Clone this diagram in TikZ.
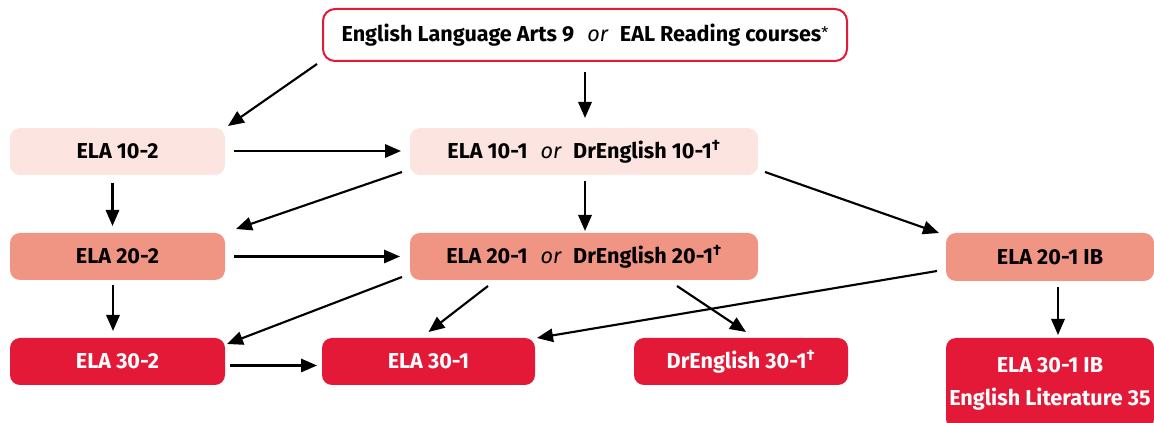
\documentclass[tikz,border=0pt]{standalone}
\usepackage{fontspec}
\setmainfont{Fira Sans}
\usetikzlibrary{arrows.meta,calc}

\definecolor{paleRose}{HTML}{FCE5E0}
\definecolor{salmonPink}{HTML}{F09484}
\definecolor{courseRed}{HTML}{E31937}

\newcommand{\orword}{\hspace{0.6em}{\mdseries\itshape or}\hspace{0.55em}}
\newcommand{\dg}{\textsuperscript{†}}
\newcommand{\astmark}{\raisebox{0.12em}{\mdseries\fontsize{12}{12}\selectfont *}}

\begin{document}
\begin{tikzpicture}[x=0.75pt,y=-0.75pt,
  course/.style={rounded corners=7.5pt, inner sep=0pt, outer sep=0pt,
    font=\bfseries\fontsize{16.2}{19}\selectfont, text=black,
    minimum height=47*0.75pt},
  lvlA/.style={course, fill=paleRose},
  lvlB/.style={course, fill=salmonPink},
  lvlC/.style={course, fill=courseRed, text=white},
  flow/.style={line width=1.6pt, -{Triangle[length=12pt,width=10pt]}}
]
\useasboundingbox (0,0) rectangle (1154,423);
\clip (0,0) rectangle (1154,423);

% starting course
\node[course, draw=courseRed, line width=1.5pt, fill=white, rounded corners=9pt,
      minimum width=524*0.75pt, minimum height=52*0.75pt] (top) at (585,35)
  {English Language Arts 9\orword EAL Reading courses\astmark};

% grade 10
\node[lvlA, minimum width=215*0.75pt] (e2) at (117.5,151.5) {ELA 10-2};
\node[lvlA, minimum width=348*0.75pt] (e1) at (584,151.5) {ELA 10-1\orword DrEnglish 10-1\dg};

% grade 20
\node[lvlB, minimum width=215*0.75pt] (f2) at (117.5,256.5) {ELA 20-2};
\node[lvlB, minimum width=348*0.75pt] (f1) at (584,256.5) {ELA 20-1\orword DrEnglish 20-1\dg};
\node[lvlB, minimum width=208*0.75pt, minimum height=48*0.75pt] (f3) at (1050,257) {ELA 20-1 IB};

% grade 30
\node[lvlC, minimum width=215*0.75pt] (e3) at (117.5,361.5) {ELA 30-2};
\node[lvlC, minimum width=213*0.75pt] (e4) at (428.5,361.5) {ELA 30-1};
\node[lvlC, minimum width=214*0.75pt] (e5) at (741,361.5) {DrEnglish 30-1\dg};
\node[lvlC, minimum width=208*0.75pt, minimum height=91*0.75pt, align=center,
      font=\bfseries\fontsize{16.2}{24.75}\selectfont] (ib) at (1050,383.5)
  {ELA 30-1 IB\\English Literature 35};

% pathways
\draw[flow] ($(top.south west)+(-6,3)$) -- ($(e2.north east)+(3,-2)$);
\draw[flow] ($(top.south)+(0,11)$) -- ($(top.south |- e1.north)+(0,-10)$);
\draw[flow] ($(e2.east)+(9,-0.5)$) -- ($(e1.west)+(-9,-0.5)$);
\draw[flow] ($(e1.south west)+(-8,-3)$) -- ($(f2.north east)+(11,-4)$);
\draw[flow] ($(e2.south)+(-5,8)$) -- ($(f2.north)+(-5,-7)$);
\draw[flow] ($(e1.south)+(1,6)$) -- ($(e1.south |- f1.north)+(1,-2)$);
\draw[flow] ($(e1.south east)+(7,-3)$) -- ($(f3.north west)+(-7,0)$);
\draw[flow] ($(f2.east)+(9,0)$) -- ($(f1.west)+(-10,0)$);
\draw[flow] ($(f1.south west)+(-8,-3)$) -- ($(e3.north east)+(2,6)$);
\draw[flow] ($(f2.south)+(-4.5,5)$) -- ($(e3.north)+(-4.5,-7)$);
\draw[flow] ($(f1.south)+(-96,6)$) -- ($(e4.north)+(0,-6)$);
\draw[flow] ($(f1.south)+(93,6)$) -- ($(e5.north)+(5,-6)$);
\draw[flow] ($(f3.west)+(-9,14)$) -- ($(e4.north east)+(2,0)$);
\draw[flow] ($(f3.south)+(8,6)$) -- ($(ib.north)+(8,-3)$);
\draw[flow] ($(e3.east)+(5,4)$) -- ($(e4.west)+(-5,4)$);
\end{tikzpicture}
\end{document}
